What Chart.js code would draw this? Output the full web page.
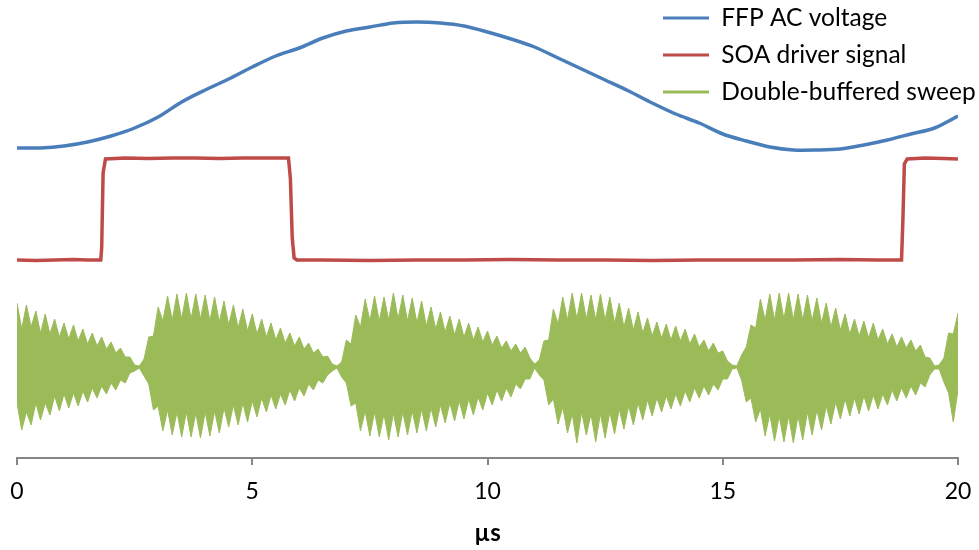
<!DOCTYPE html>
<html><head><meta charset="utf-8">
<script src="https://cdn.jsdelivr.net/npm/chart.js@4.4.1/dist/chart.umd.min.js"></script>
<style>html,body{margin:0;padding:0;background:#fff;}#wrap{width:979px;height:550px;}</style>
</head><body><div id="wrap"><canvas id="c" width="979" height="550"></canvas></div>
<script>
const seriesNames = ['FFP AC voltage', 'SOA driver signal', 'Double-buffered sweep'];
const xTicks = [0, 5, 10, 15, 20];
const xTitle = 'µs';

// FFP AC voltage, sampled every 0.5 µs
const blueStep = 0.5;
const blueV = [31.0,31.0,31.2,31.6,32.2,33.0,34.1,35.6,36.8,37.9,39.1,40.2,41.0,42.0,42.7,43.1,43.5,43.6,43.5,43.2,
  42.6,41.9,41.1,40.0,38.9,37.8,36.7,35.5,34.4,33.5,32.4,31.7,31.1,30.8,30.8,30.9,31.3,31.8,32.4,33.0,34.2];

// SOA driver signal (time in µs, value)
const redT = [0,0.4,0.8,1.2,1.5,1.78,1.80,1.83,1.88,2.3,2.8,3.3,3.8,4.3,4.8,5.3,5.77,5.81,5.85,5.89,5.95,6.5,7.5,8.5,9.5,10.5,11.5,12.5,13.5,14.5,15.5,16.5,17.5,18.3,18.80,18.83,18.86,18.92,19.3,19.7,20];
const redV = [19.8,19.75,19.8,19.85,19.8,19.8,21.0,28.5,29.9,30.0,29.95,30.0,30.0,29.95,30.0,30.0,30.0,28.0,22.0,20.0,19.8,19.8,19.75,19.8,19.8,19.85,19.8,19.8,19.75,19.8,19.8,19.8,19.85,19.8,19.8,24.0,29.4,29.9,30.0,29.95,29.9];

// Double-buffered sweep: upper and lower extent of the trace, every 0.1 µs
const greenStep = 0.1;
const greenHi = [15.5,12.9,15.3,13.1,14.7,12.5,14.4,12.4,13.9,12.1,13.5,11.9,13.3,11.7,12.9,11.4,12.5,11.2,12.1,10.9,
  11.6,10.5,11.0,10.1,10.1,9.3,9.2,9.9,12.1,12.2,15.1,13.7,16.2,13.8,16.4,13.9,16.5,13.9,16.4,13.9,
  16.3,13.7,16.1,13.6,15.7,13.3,15.3,13.0,14.9,12.7,14.4,12.4,13.9,12.1,13.5,11.8,13.0,11.5,12.5,11.2,
  12.1,10.9,11.5,10.5,10.9,10.1,10.2,9.4,9.2,9.6,11.8,11.4,14.3,13.1,15.9,13.7,16.2,13.7,16.1,13.8,
  16.5,13.9,16.3,13.7,16.0,13.5,15.7,13.2,15.1,12.9,14.6,12.6,14.2,12.3,13.9,12.1,13.5,11.8,13.1,11.6,
  12.7,11.3,12.2,11.0,11.7,10.7,11.4,10.5,11.1,10.0,9.4,9.8,11.7,11.8,14.9,13.4,16.1,13.8,16.5,13.9,
  16.5,13.9,16.3,13.8,16.4,13.8,16.1,13.5,15.5,13.1,15.0,12.8,14.6,12.5,14.0,12.2,13.6,12.0,13.4,11.8,
  13.2,11.7,12.9,11.4,12.4,11.1,11.8,10.7,11.5,10.5,10.7,9.7,9.3,9.2,10.3,11.1,13.3,13.0,15.9,13.8,
  16.4,13.8,16.5,13.9,16.5,13.8,16.4,13.8,16.3,13.7,16.0,13.5,15.5,13.1,15.0,12.8,14.4,12.4,13.9,12.2,
  13.7,12.0,13.5,11.8,12.9,11.4,12.4,11.1,12.1,11.0,11.8,10.7,11.3,10.1,10.0,9.2,9.3,10.0,12.5,12.4,14.5];
const greenLo = [5.5,2.8,4.6,3.3,5.5,3.8,5.5,4.3,6.2,4.7,6.4,5.0,6.5,5.2,6.7,5.6,7.0,6.0,7.2,6.4,
  7.5,6.8,7.8,7.5,8.5,8.7,9.0,8.2,7.4,4.8,5.2,2.7,4.8,2.3,4.6,2.1,4.6,2.1,4.5,2.0,
  4.6,2.2,4.7,2.5,5.0,3.1,5.3,3.3,5.5,3.6,5.7,4.1,6.0,4.6,6.3,4.9,6.4,5.3,6.8,5.7,
  7.0,6.2,7.4,6.8,7.8,7.5,8.3,8.7,9.0,8.1,7.5,5.2,5.5,2.7,4.7,2.2,4.6,2.1,4.4,1.8,
  4.5,2.1,4.6,2.3,4.7,2.5,4.9,2.7,5.0,3.1,5.3,3.5,5.5,3.7,5.7,3.9,5.9,4.3,6.1,4.8,
  6.5,5.3,6.8,5.7,7.0,6.1,7.4,6.9,7.9,7.9,9.0,8.3,7.8,5.3,5.9,3.4,5.1,2.5,4.4,1.5,
  4.6,2.3,4.4,1.6,4.4,2.0,4.6,2.4,4.9,2.9,5.2,3.3,5.5,3.8,5.8,4.2,6.0,4.6,6.2,4.9,
  6.4,5.2,6.7,5.6,7.0,6.0,7.2,6.3,7.4,6.8,7.9,7.9,8.9,9.0,7.8,5.6,6.0,3.6,4.9,2.2,
  4.4,1.7,4.2,1.6,4.2,1.5,4.2,1.8,4.6,2.3,4.8,2.8,5.2,3.4,5.6,3.9,5.9,4.2,6.0,4.4,
  6.2,4.7,6.3,4.9,6.4,5.3,6.8,5.7,7.0,6.0,7.2,6.3,7.5,7.1,8.3,8.9,8.9,7.6,6.5,3.6,6.8];

const colBlue = '#4a7ebb', colRed = '#be4b48', colGreen = '#9bbb59';
const FONT = 'Lato, "Open Sans", sans-serif';
const LEG_SIZE = 24.5;

const bluePts = blueV.map((v, i) => ({x: i * blueStep, y: v}));
const redPts = redT.map((t, i) => ({x: t, y: redV[i]}));
const hiPts = greenHi.map((v, i) => ({x: +(i * greenStep).toFixed(2), y: v}));
const loPts = greenLo.map((v, i) => ({x: +(i * greenStep).toFixed(2), y: v}));

const legendPlace = {
  id: 'legendPlace',
  afterLayout(chart) {
    const lg = chart.legend;
    const pad = lg.options.labels.padding;
    lg.left = 663 - pad;
    lg.top = 18 - pad - LEG_SIZE / 2;
    lg.right = 979;
    lg.bottom = 458;
  }
};

new Chart(document.getElementById('c'), {
  type: 'line',
  data: {
    datasets: [
      {label: seriesNames[0], data: bluePts, borderColor: colBlue, backgroundColor: colBlue, borderWidth: 3.5, pointRadius: 0, tension: 0.3, fill: false},
      {label: seriesNames[1], data: redPts, borderColor: colRed, backgroundColor: colRed, borderWidth: 3.5, pointRadius: 0, tension: 0, fill: false},
      {label: seriesNames[2], data: hiPts, borderColor: colGreen, backgroundColor: colGreen, borderWidth: 1, pointRadius: 0, tension: 0, fill: '+1'},
      {label: '_lo', data: loPts, borderColor: colGreen, backgroundColor: colGreen, borderWidth: 1, pointRadius: 0, tension: 0, fill: false}
    ]
  },
  options: {
    responsive: false,
    animation: false,
    devicePixelRatio: 1,
    layout: {padding: {left: 17, right: 21, top: 8, bottom: 0}},
    plugins: {
      tooltip: {enabled: false},
      legend: {
        position: 'chartArea',
        align: 'start',
        labels: {
          font: {family: FONT, size: LEG_SIZE},
          color: '#000',
          boxWidth: 46,
          boxHeight: 3,
          padding: 12.5,
          generateLabels(chart) {
            return Chart.defaults.plugins.legend.labels.generateLabels(chart)
              .filter(l => l.datasetIndex < 3)
              .map(l => Object.assign(l, {fillStyle: l.strokeStyle, lineWidth: 0}));
          }
        }
      }
    },
    scales: {
      x: {
        type: 'linear', min: 0, max: 20,
        afterBuildTicks: s => { s.ticks = xTicks.map(v => ({value: v})); },
        afterFit: s => { s.height = 92; s.paddingLeft = 0; s.paddingRight = 0; },
        grid: {drawOnChartArea: false, drawTicks: true, tickLength: 7, color: '#868686', lineWidth: 2},
        border: {display: true, color: '#868686', width: 2},
        ticks: {font: {family: FONT, size: 23}, color: '#000', padding: 13, maxRotation: 0},
        title: {display: true, text: xTitle, font: {family: FONT, size: 24, weight: 'bold'}, color: '#000', padding: {top: 4, bottom: 2}}
      },
      y: {display: false, min: 0, max: 45}
    }
  },
  plugins: [legendPlace]
});
</script>
</body></html>
